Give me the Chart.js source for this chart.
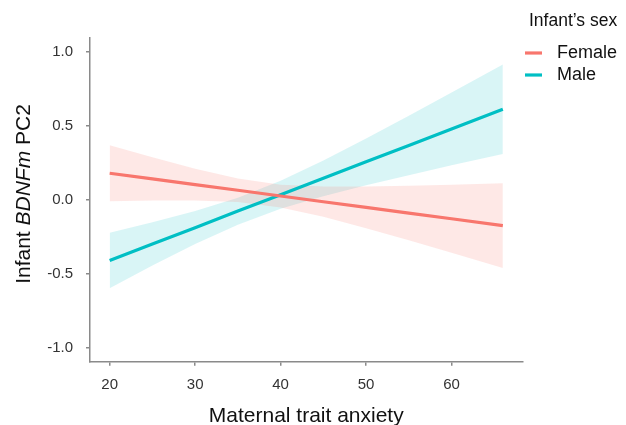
<!DOCTYPE html>
<html>
<head>
<meta charset="utf-8">
<script src="https://cdn.jsdelivr.net/npm/chart.js@4.4.1/dist/chart.umd.min.js"></script>
<style>
  html, body { margin: 0; padding: 0; background: #fff; }
  #wrap { position: relative; width: 626px; height: 425px; }
  canvas { display: block; }
</style>
</head>
<body>
<div id="wrap"><canvas id="c" width="626" height="425"></canvas></div>
<script>
// ---- data ----
const anxiety = [20, 25, 30, 35, 40, 45, 50, 55, 60, 66];
const femaleFit   = [0.180, 0.142, 0.103, 0.065, 0.026, -0.013, -0.051, -0.090, -0.128, -0.174];
const femaleUpper = [0.370, 0.288, 0.210, 0.144, 0.103, 0.090, 0.090, 0.095, 0.103, 0.113];
const femaleLower = [-0.010, -0.005, -0.004, -0.015, -0.051, -0.115, -0.192, -0.274, -0.358, -0.461];
const maleFit   = [-0.410, -0.299, -0.188, -0.076, 0.035, 0.146, 0.257, 0.368, 0.480, 0.613];
const maleUpper = [-0.222, -0.152, -0.076, 0.015, 0.130, 0.267, 0.415, 0.569, 0.726, 0.915];
const maleLower = [-0.598, -0.445, -0.299, -0.168, -0.060, 0.025, 0.099, 0.167, 0.234, 0.311];
const seriesNames = ["Female", "Male"];
const xTicks = [20, 30, 40, 50, 60];
const yTicks = [-1.0, -0.5, 0.0, 0.5, 1.0];
const xTitle = "Maternal trait anxiety";
const yTitleParts = [["Infant ", false], ["BDNFm", true], [" PC2", false]];
const legendTitle = "Infant\u2019s sex";

const colFemale = "#F8766D";
const colMale = "#00BFC4";
const FONT = "'Liberation Sans', Arial, sans-serif";

const pts = (ys) => anxiety.map((x, i) => ({ x: x, y: ys[i] }));

const lineDs = (label, ys, col) => ({
  label, data: pts(ys), borderColor: col, backgroundColor: col,
  borderWidth: 3.2, pointRadius: 0, tension: 0, fill: false, order: 0
});
const bandUpper = (ys, col) => ({
  label: "_band", data: pts(ys), borderWidth: 0, borderColor: "rgba(0,0,0,0)",
  backgroundColor: col, pointRadius: 0, tension: 0, fill: "+1", order: 1
});
const bandLower = (ys) => ({
  label: "_band", data: pts(ys), borderWidth: 0, borderColor: "rgba(0,0,0,0)",
  pointRadius: 0, tension: 0, fill: false, order: 1
});

const decor = {
  id: "decor",
  afterDraw(chart) {
    const ctx = chart.ctx;
    const ca = chart.chartArea;
    ctx.save();
    ctx.fillStyle = "#111";
    // x title
    ctx.font = "21px " + FONT;
    ctx.textAlign = "center";
    ctx.textBaseline = "alphabetic";
    ctx.fillText(xTitle, (ca.left + ca.right) / 2, 422);
    // y title (mixed italic)
    const fonts = yTitleParts.map(p => (p[1] ? "italic " : "") + "21px " + FONT);
    let widths = yTitleParts.map((p, i) => { ctx.font = fonts[i]; return ctx.measureText(p[0]).width; });
    const total = widths.reduce((a, b) => a + b, 0);
    ctx.translate(30, 194);
    ctx.rotate(-Math.PI / 2);
    ctx.textAlign = "left";
    let xx = -total / 2;
    yTitleParts.forEach((p, i) => { ctx.font = fonts[i]; ctx.fillText(p[0], xx, 0); xx += widths[i]; });
    ctx.restore();

    // legend
    ctx.save();
    ctx.fillStyle = "#111";
    ctx.textAlign = "left";
    ctx.textBaseline = "middle";
    ctx.font = "17.5px " + FONT;
    ctx.fillText(legendTitle, 529, 21);
    const cols = [colFemale, colMale];
    const ys = [53, 75];
    ctx.font = "18px " + FONT;
    seriesNames.forEach((n, i) => {
      ctx.strokeStyle = cols[i];
      ctx.lineWidth = 3.2;
      ctx.beginPath();
      ctx.moveTo(525, ys[i]);
      ctx.lineTo(542, ys[i]);
      ctx.stroke();
      ctx.fillStyle = "#111";
      ctx.fillText(n, 557, ys[i]);
    });
    ctx.restore();
  }
};

const axisCol = "#8a8a8a";
new Chart(document.getElementById("c"), {
  type: "line",
  data: {
    datasets: [
      lineDs(seriesNames[0], femaleFit, colFemale),
      lineDs(seriesNames[1], maleFit, colMale),
      bandUpper(femaleUpper, "rgba(248,118,109,0.17)"),
      bandLower(femaleLower),
      bandUpper(maleUpper, "rgba(0,191,196,0.15)"),
      bandLower(maleLower)
    ]
  },
  options: {
    responsive: false,
    animation: false,
    layout: { padding: { top: 38, right: 103.5, bottom: 0, left: 0 } },
    plugins: { legend: { display: false }, tooltip: { enabled: false }, title: { display: false } },
    scales: {
      x: {
        type: "linear", min: 17.7, max: 68.3,
        afterBuildTicks: (s) => { s.ticks = xTicks.map(v => ({ value: v })); },
        afterFit: (s) => { s.height = 425 - 361.7; },
        grid: { display: true, drawOnChartArea: false, drawTicks: true, tickLength: 4, color: axisCol, lineWidth: 1.5 },
        border: { display: true, color: axisCol, width: 1.5 },
        ticks: { color: "#333", font: { family: FONT, size: 15 }, padding: 10, maxRotation: 0,
                 callback: (v) => String(v) }
      },
      y: {
        type: "linear", min: -1.095, max: 1.095,
        afterBuildTicks: (s) => { s.ticks = yTicks.map(v => ({ value: v })); },
        afterFit: (s) => { s.width = 90; },
        grid: { display: true, drawOnChartArea: false, drawTicks: true, tickLength: 4, color: axisCol, lineWidth: 1.5 },
        border: { display: true, color: axisCol, width: 1.5 },
        ticks: { color: "#333", font: { family: FONT, size: 15 }, padding: 13,
                 callback: (v) => Number(v).toFixed(1) }
      }
    }
  },
  plugins: [decor]
});
</script>
</body>
</html>
